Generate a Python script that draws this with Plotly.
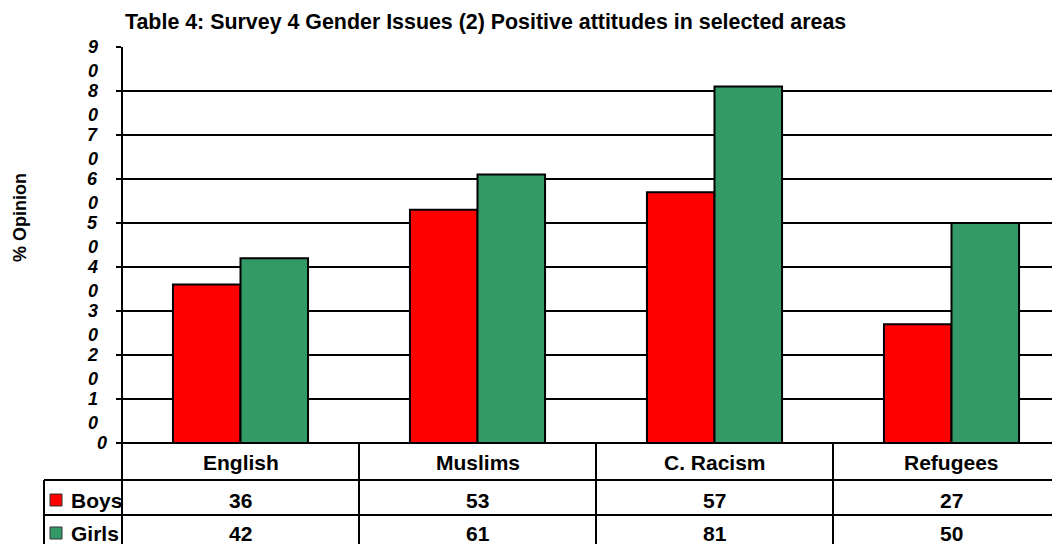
import plotly.graph_objects as go

categories = ["English", "Muslims", "C. Racism", "Refugees"]
boys = [36, 53, 57, 27]
girls = [42, 61, 81, 50]
series_names = ["Boys", "Girls"]
series_colors = ["#FF0000", "#339966"]
y_ticks = [0, 10, 20, 30, 40, 50, 60, 70, 80, 90]
title_text = "Table 4: Survey 4 Gender Issues (2) Positive attitudes in selected areas"
y_title = "% Opinion"

OFF = 8  # page offset of the plot div
W, H = 1060 - OFF, 544 - OFF
L, R, T, B = 122 - OFF, 0, 47 - OFF, 101
PW = W - L - R
PH = H - T - B
FONT = "Liberation Sans, Arial, sans-serif"


def px_x(p):
    return (p - OFF - L) / PW


def px_y(p):
    return (H - B - (p - OFF)) / PH


fig = go.Figure()
for name, vals, col in zip(series_names, [boys, girls], series_colors):
    fig.add_trace(go.Bar(
        x=list(range(len(categories))), y=vals, name=name,
        marker=dict(color=col, line=dict(color="#000000", width=2)),
        showlegend=False,
    ))

x_end = -0.5 + PW / 237.0

annotations = []
annotations.append(dict(text="<b>" + title_text + "</b>", xref="paper", yref="paper",
                        x=px_x(485), y=px_y(22), xanchor="center", yanchor="middle",
                        showarrow=False, font=dict(family=FONT, size=21.4, color="#000")))
annotations.append(dict(text="<b>" + y_title + "</b>", xref="paper", yref="paper",
                        x=px_x(20), y=px_y(218), xanchor="center", yanchor="middle",
                        textangle=-90, showarrow=False,
                        font=dict(family=FONT, size=18, color="#000")))
for v in y_ticks:
    s = str(v)
    if len(s) == 1:
        annotations.append(dict(text="<b><i>" + s + "</i></b>", xref="paper", yref="y",
                                x=px_x(109), y=v, xanchor="right", yanchor="middle",
                                showarrow=False, font=dict(family=FONT, size=18, color="#000")))
    else:
        for i, ch in enumerate(s):
            annotations.append(dict(text="<b><i>" + ch + "</i></b>", xref="paper", yref="y",
                                    x=px_x(100), y=v, yshift=-24 * i, xanchor="right",
                                    yanchor="middle", showarrow=False,
                                    font=dict(family=FONT, size=18, color="#000")))

row_y = [462, 500, 533]
for i, c in enumerate(categories):
    annotations.append(dict(text="<b>" + c + "</b>", xref="x", yref="paper", x=i, y=px_y(row_y[0]),
                            xanchor="center", yanchor="middle", showarrow=False,
                            font=dict(family=FONT, size=21, color="#000")))
    for r, vals in enumerate([boys, girls]):
        annotations.append(dict(text="<b>" + str(vals[i]) + "</b>", xref="x", yref="paper", x=i,
                                y=px_y(row_y[r + 1]), xanchor="center", yanchor="middle",
                                showarrow=False, font=dict(family=FONT, size=21, color="#000")))
for r, name in enumerate(series_names):
    annotations.append(dict(text="<b>" + name + "</b>", xref="paper", yref="paper", x=px_x(69),
                            y=px_y(row_y[r + 1]), xanchor="left", yanchor="middle",
                            showarrow=False, font=dict(family=FONT, size=21, color="#000")))

shapes = []
line = dict(color="#000000", width=2)
shapes.append(dict(type="line", xref="paper", yref="paper", x0=0, x1=0, y0=1, y1=px_y(560), line=line))
for yy in [480, 515]:
    shapes.append(dict(type="line", xref="paper", yref="paper", x0=px_x(44), x1=1.01,
                       y0=px_y(yy), y1=px_y(yy), line=line))
shapes.append(dict(type="line", xref="paper", yref="paper", x0=px_x(44), x1=px_x(44),
                   y0=px_y(480), y1=px_y(560), line=line))
for k in range(1, len(categories)):
    shapes.append(dict(type="line", xref="x", yref="paper", x0=k - 0.5, x1=k - 0.5,
                       y0=0, y1=px_y(560), line=line))
for r, col in enumerate(series_colors):
    yc = row_y[r + 1]
    shapes.append(dict(type="rect", xref="paper", yref="paper", x0=px_x(50), x1=px_x(62),
                       y0=px_y(yc - 6), y1=px_y(yc + 6), fillcolor=col,
                       line=dict(color="#333333", width=1)))

fig.update_layout(
    width=W, height=H,
    margin=dict(l=L, r=R, t=T, b=B, pad=0),
    paper_bgcolor="#FFFFFF", plot_bgcolor="#FFFFFF",
    barmode="group", bargap=0.43, bargroupgap=0,
    annotations=annotations, shapes=shapes,
    xaxis=dict(range=[-0.5, x_end], showticklabels=False, showgrid=False, zeroline=False,
               showline=False, ticks="", fixedrange=True),
    yaxis=dict(range=[0, 90], tickvals=y_ticks, showticklabels=False, showgrid=True,
               gridcolor="#000000", gridwidth=2, zeroline=True, zerolinecolor="#000000",
               zerolinewidth=2, showline=False, ticks="outside", ticklen=5,
               tickcolor="#000000", tickwidth=2, fixedrange=True),
    font=dict(family=FONT),
)

fig.write_html("out.html")
